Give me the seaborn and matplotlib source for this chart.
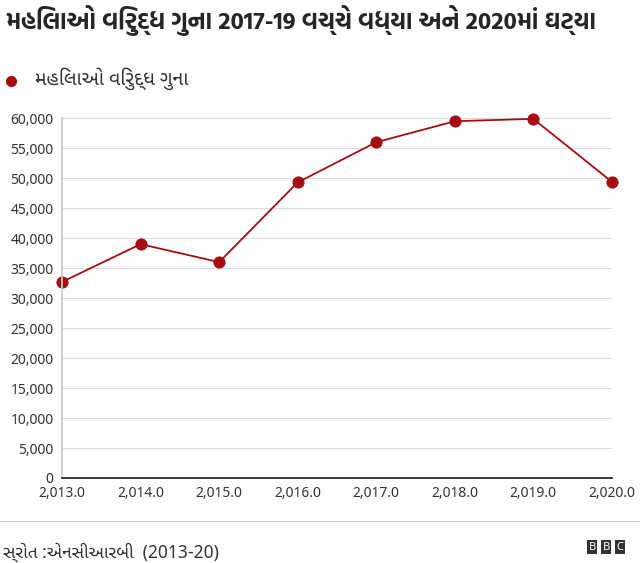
import matplotlib
matplotlib.use("Agg")
import matplotlib.pyplot as plt
import seaborn as sns
import pandas as pd
from matplotlib.ticker import FuncFormatter

years = [2013, 2014, 2015, 2016, 2017, 2018, 2019, 2020]
crimes = [32700, 39000, 36000, 49300, 56000, 59500, 59900, 49400]
title = "મહિલાઓ વિરુદ્ધ ગુના 2017-19 વચ્ચે વધ્યા અને 2020માં ઘટ્યા"
series_name = "મહિલાઓ વિરુદ્ધ ગુના"
source = "સ્રોત :એનસીઆરબી  (2013-20)"

sns.set_theme(style="white")
plt.rcParams['font.family'] = ['Noto Sans', 'Noto Sans Gujarati', 'DejaVu Sans']
guj = ['Noto Sans Gujarati', 'Noto Sans', 'DejaVu Sans']
gujb = ['Hind Vadodara', 'Noto Sans Gujarati', 'DejaVu Sans']
df = pd.DataFrame({"year": years, "value": crimes})
red = "#a50d12"

fig = plt.figure(figsize=(6.4, 5.63), dpi=100)
ax = fig.add_axes([0.097, 0.151, 0.859, 0.639])
sns.lineplot(data=df, x="year", y="value", ax=ax, color=red, marker="o",
             markersize=8, markeredgecolor=red, linewidth=1.3)
for ln in ax.lines:
    ln.set_clip_on(False)
ax.set_xlim(2013, 2020)
ax.set_ylim(0, 60000)
ax.set_yticks(range(0, 60001, 5000))
ax.set_xticks(years)
ax.yaxis.set_major_formatter(FuncFormatter(lambda v, p: f"{int(v):,}"))
ax.xaxis.set_major_formatter(FuncFormatter(lambda v, p: f"{v:,.1f}"))
ax.grid(axis="y", color="#dddddd", linewidth=0.8)
ax.set_axisbelow(True)
for s in ["top", "right"]:
    ax.spines[s].set_visible(False)
ax.spines["left"].set_color("#cccccc")
ax.spines["bottom"].set_color("#222222")
ax.tick_params(axis="both", labelsize=10, colors="#333333", length=0, pad=6)
ax.set_xlabel("")
ax.set_ylabel("")

fig.text(0.01, 0.963, title, fontsize=17.5, fontweight="bold", ha="left", va="center", family=gujb)
fig.lines.append(plt.Line2D([0.017], [0.857], marker="o", color=red, markersize=7,
                            transform=fig.transFigure))
fig.text(0.055, 0.86, series_name, fontsize=14, ha="left", va="center", color="#333333", family=guj)
fig.lines.append(plt.Line2D([0, 1], [0.075, 0.075], color="#cccccc", linewidth=0.8,
                            transform=fig.transFigure))
fig.text(0.005, 0.02, source, fontsize=12.5, ha="left", va="center", color="#333333", family=guj)
for i, ch in enumerate("BBC"):
    fig.text(0.925 + i * 0.022, 0.028, ch, fontsize=8, fontweight="bold", color="white",
             ha="center", va="center",
             bbox=dict(boxstyle="square,pad=0.15", fc="#333333", ec="none"))
fig.savefig("out.png", dpi=100)
